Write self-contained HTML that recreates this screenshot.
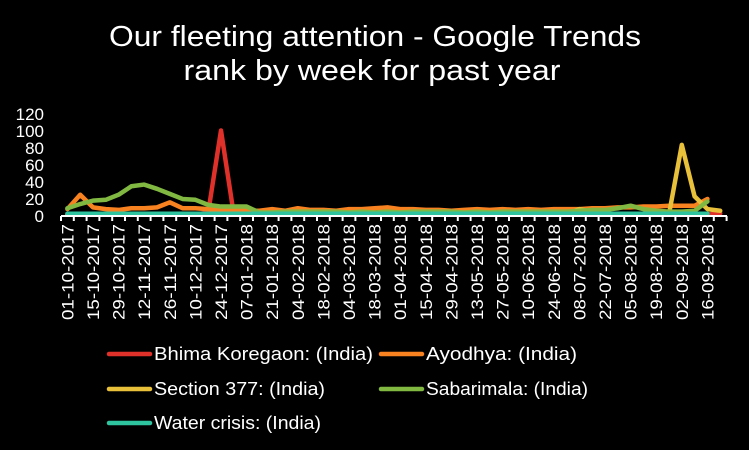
<!DOCTYPE html>
<html><head><meta charset="utf-8"><style>
html,body{margin:0;padding:0;background:#000;width:749px;height:450px;overflow:hidden}
svg{display:block}
text{font-family:"Liberation Sans",sans-serif;fill:#fff}
</style></head><body>
<svg id="s" width="749" height="450" viewBox="0 0 749 450">
<text x="375" y="46" font-size="29" text-anchor="middle" textLength="532" lengthAdjust="spacingAndGlyphs">Our fleeting attention - Google Trends</text>
<text x="372" y="80" font-size="29" text-anchor="middle" textLength="377" lengthAdjust="spacingAndGlyphs">rank by week for past year</text>
<g font-size="17" text-anchor="end">
<text x="44" y="222">0</text><text x="44" y="205">20</text><text x="44" y="188">40</text><text x="44" y="171">60</text><text x="44" y="154">80</text><text x="44" y="137">100</text><text x="44" y="120">120</text>
</g>
<g id="series" fill="none" stroke-width="4.5" stroke-linejoin="round" stroke-linecap="round"></g>
<g id="axis" stroke="#fff" stroke-width="2"></g>
<g font-size="17" text-anchor="end" fill="#fff">
<text transform="translate(67.4,224) rotate(-90)" dy="6" textLength="96" lengthAdjust="spacingAndGlyphs">01-10-2017</text>
<text transform="translate(93,224) rotate(-90)" dy="6" textLength="96" lengthAdjust="spacingAndGlyphs">15-10-2017</text>
<text transform="translate(118.6,224) rotate(-90)" dy="6" textLength="96" lengthAdjust="spacingAndGlyphs">29-10-2017</text>
<text transform="translate(144.2,224) rotate(-90)" dy="6" textLength="96" lengthAdjust="spacingAndGlyphs">12-11-2017</text>
<text transform="translate(169.8,224) rotate(-90)" dy="6" textLength="96" lengthAdjust="spacingAndGlyphs">26-11-2017</text>
<text transform="translate(195.4,224) rotate(-90)" dy="6" textLength="96" lengthAdjust="spacingAndGlyphs">10-12-2017</text>
<text transform="translate(221,224) rotate(-90)" dy="6" textLength="96" lengthAdjust="spacingAndGlyphs">24-12-2017</text>
<text transform="translate(246.6,224) rotate(-90)" dy="6" textLength="96" lengthAdjust="spacingAndGlyphs">07-01-2018</text>
<text transform="translate(272.2,224) rotate(-90)" dy="6" textLength="96" lengthAdjust="spacingAndGlyphs">21-01-2018</text>
<text transform="translate(297.8,224) rotate(-90)" dy="6" textLength="96" lengthAdjust="spacingAndGlyphs">04-02-2018</text>
<text transform="translate(323.4,224) rotate(-90)" dy="6" textLength="96" lengthAdjust="spacingAndGlyphs">18-02-2018</text>
<text transform="translate(349,224) rotate(-90)" dy="6" textLength="96" lengthAdjust="spacingAndGlyphs">04-03-2018</text>
<text transform="translate(374.6,224) rotate(-90)" dy="6" textLength="96" lengthAdjust="spacingAndGlyphs">18-03-2018</text>
<text transform="translate(400.2,224) rotate(-90)" dy="6" textLength="96" lengthAdjust="spacingAndGlyphs">01-04-2018</text>
<text transform="translate(425.8,224) rotate(-90)" dy="6" textLength="96" lengthAdjust="spacingAndGlyphs">15-04-2018</text>
<text transform="translate(451.4,224) rotate(-90)" dy="6" textLength="96" lengthAdjust="spacingAndGlyphs">29-04-2018</text>
<text transform="translate(477,224) rotate(-90)" dy="6" textLength="96" lengthAdjust="spacingAndGlyphs">13-05-2018</text>
<text transform="translate(502.6,224) rotate(-90)" dy="6" textLength="96" lengthAdjust="spacingAndGlyphs">27-05-2018</text>
<text transform="translate(528.2,224) rotate(-90)" dy="6" textLength="96" lengthAdjust="spacingAndGlyphs">10-06-2018</text>
<text transform="translate(553.8,224) rotate(-90)" dy="6" textLength="96" lengthAdjust="spacingAndGlyphs">24-06-2018</text>
<text transform="translate(579.4,224) rotate(-90)" dy="6" textLength="96" lengthAdjust="spacingAndGlyphs">08-07-2018</text>
<text transform="translate(605,224) rotate(-90)" dy="6" textLength="96" lengthAdjust="spacingAndGlyphs">22-07-2018</text>
<text transform="translate(630.6,224) rotate(-90)" dy="6" textLength="96" lengthAdjust="spacingAndGlyphs">05-08-2018</text>
<text transform="translate(656.2,224) rotate(-90)" dy="6" textLength="96" lengthAdjust="spacingAndGlyphs">19-08-2018</text>
<text transform="translate(681.8,224) rotate(-90)" dy="6" textLength="96" lengthAdjust="spacingAndGlyphs">02-09-2018</text>
<text transform="translate(707.4,224) rotate(-90)" dy="6" textLength="96" lengthAdjust="spacingAndGlyphs">16-09-2018</text>
</g>
<g stroke-width="4.5" stroke-linecap="round">
<line x1="109" y1="354" x2="150" y2="354" stroke="#e0302a"/>
<line x1="381" y1="354" x2="422" y2="354" stroke="#f98220"/>
<line x1="109" y1="389" x2="150" y2="389" stroke="#e8c03a"/>
<line x1="381" y1="389" x2="422" y2="389" stroke="#80b842"/>
<line x1="109" y1="423" x2="150" y2="423" stroke="#2ec4a0"/>
</g>
<g font-size="18">
<text x="154" y="360" textLength="219" lengthAdjust="spacingAndGlyphs">Bhima Koregaon: (India)</text>
<text x="426" y="360" textLength="151" lengthAdjust="spacingAndGlyphs">Ayodhya: (India)</text>
<text x="154" y="395" textLength="171" lengthAdjust="spacingAndGlyphs">Section 377: (India)</text>
<text x="426" y="395" textLength="162" lengthAdjust="spacingAndGlyphs">Sabarimala: (India)</text>
<text x="154" y="429" textLength="167" lengthAdjust="spacingAndGlyphs">Water crisis: (India)</text>
</g>
</svg>
<script>
var ns="http://www.w3.org/2000/svg";
function X(i){return 61+12.8*(i+0.5);}
function Y(v){return 215-0.845*v;}
function fill(n,f){var a=[];for(var i=0;i<n;i++)a.push(f(i));return a;}
var red=fill(52,function(i){return i==12?100:(i==11?3:0.5)});red[51]=2;
var orange=[7,24,9,7,6,8,8,9,15,8,8,7,6,5,5,5,7,5,8,6,6,5,7,7,8,9,7,7,6,6,5,6,7,6,7,6,7,6,7,7,7,8,8,9,9,10,10,11,11,11,19];
var yellow=fill(52,function(i){return 0.5});yellow[40]=7;yellow[41]=4;yellow[47]=1;yellow[48]=83;yellow[49]=22;yellow[50]=7;yellow[51]=5;
var green=[8,13,17,18,24,34,36,31,25,19,18,12,10,10,10,3,3,4,4,4,4,4,3,4,3,4,3,4,4,4,4,3,4,3,4,4,4,4,4,4,5,6,6,8,11,7,5,4,4,5,16];
var teal=fill(51,function(){return 1.5});
var g=document.getElementById("series");
[[red,"#e0302a"],[orange,"#f98220"],[yellow,"#e8c03a"],[green,"#80b842"],[teal,"#2ec4a0"]].forEach(function(s){
var p=document.createElementNS(ns,"polyline");
p.setAttribute("points",s[0].map(function(v,i){return X(i)+","+Y(v)}).join(" "));
p.setAttribute("stroke",s[1]);g.appendChild(p);});
var a=document.getElementById("axis");
var l=document.createElementNS(ns,"line");l.setAttribute("x1",61);l.setAttribute("x2",727);l.setAttribute("y1",216);l.setAttribute("y2",216);a.appendChild(l);
for(var i=0;i<=52;i++){var t=document.createElementNS(ns,"line");var x=61+12.8*i;t.setAttribute("x1",x);t.setAttribute("x2",x);t.setAttribute("y1",216);t.setAttribute("y2",221);a.appendChild(t);}
</script>
</body></html>
